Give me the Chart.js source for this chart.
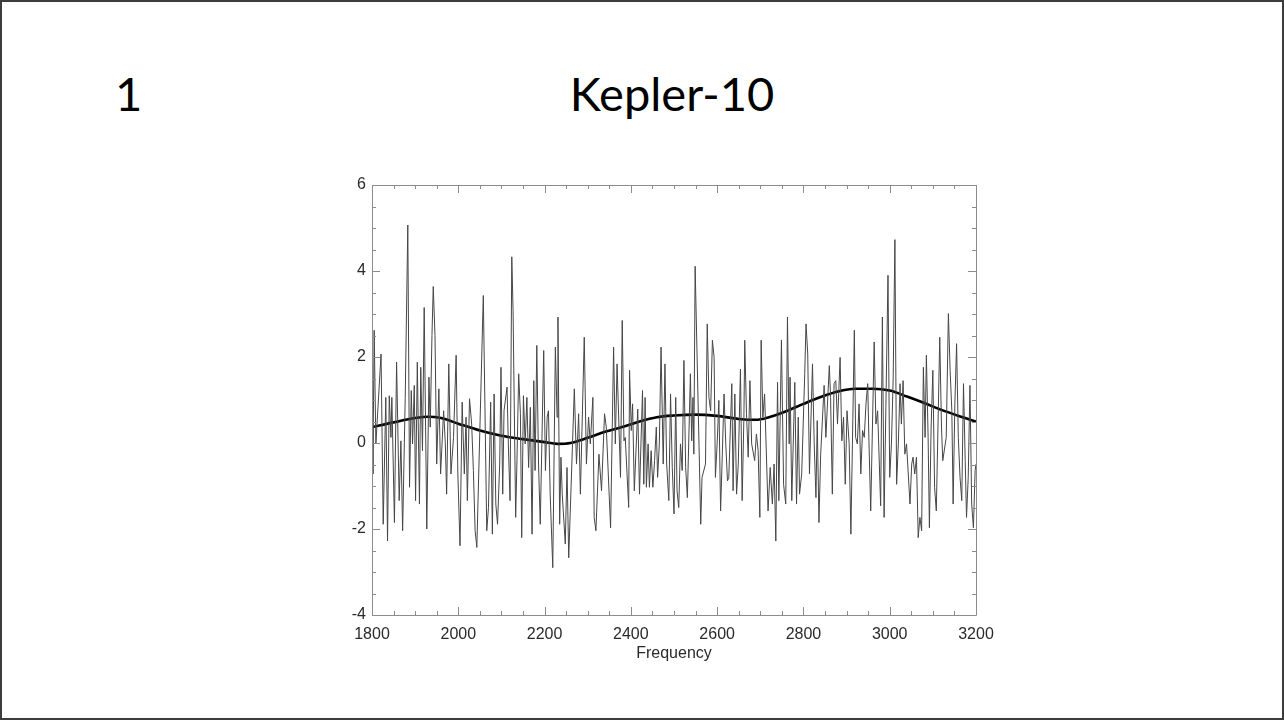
<!DOCTYPE html>
<html>
<head>
<meta charset="utf-8">
<title>Kepler-10</title>
<script src="https://cdn.jsdelivr.net/npm/chart.js@4.4.1/dist/chart.umd.min.js"></script>
<style>
  html, body { margin: 0; padding: 0; background: #ffffff; }
  body { width: 1284px; height: 720px; position: relative; overflow: hidden; }
  #slide { position: absolute; left: 0; top: 0; width: 1280px; height: 716px; border: 2px solid #3c3c3c; }
  .heading { position: absolute; top: 65px; font-family: Lato, "Open Sans", sans-serif; font-size: 47px; line-height: 56px; color: #000; white-space: nowrap; }
  #num { left: 115px; }
  #title { left: 672px; transform: translateX(-50%); }
  #plot { position: absolute; left: 0; top: 0; }
</style>
</head>
<body>
<div id="slide"></div>
<div class="heading" id="num">1</div>
<div class="heading" id="title">Kepler-10</div>
<canvas id="plot" width="1284" height="720"></canvas>
<script>
// Power spectrum samples (frequency, power)
const noiseFreq = [
  1800,1802,1805,1809,1821,1826,1832,1836,1840,1844,1846,1852,1857,1863,1867,1871,1877,1883,1887,1891,
  1894,1898,1901,1905,1910,1913,1917,1921,1927,1932,1935,1939,1942,1946,1950,1955,1959,1966,1970,1973,
  1978,1983,1989,1995,1999,2004,2009,2014,2018,2021,2026,
  2031,2035,2039,2043,2058,2066,2070,2075,2079,2083,2087,2091,2096,2099,2103,2106,2113,2116,2120,2124,
  2127,2133,2136,2140,2144,2147,2151,2155,2159,2163,2167,2171,2175,2178,2182,2186,2190,2198,2202,2206,
  2209,2213,2219,2225,2229,2231,2235,2238,2241,2248,2252,2256,
  2269,2274,2279,2283,2292,2297,2302,2306,2312,2315,2319,2326,2332,2339,2343,2353,2360,2364,2368,2376,
  2380,2384,2387,2395,2397,2401,2404,2408,2416,2420,2427,2430,2433,2436,2440,2443,2447,2451,2455,2459,
  2462,2466,2470,2475,2479,2483,2488,2492,2496,2500,
  2504,2507,2511,2515,2519,2523,2527,2531,2538,2541,2544,2546,2549,2562,2565,2573,2577,2581,2585,2589,
  2593,2596,2600,2604,2608,2612,2616,2620,2624,2627,2634,2637,2641,2645,2649,2654,2658,2662,2664,2668,
  2672,2676,2680,2687,2691,2695,2699,2702,2706,2710,2718,2723,
  2728,2732,2736,2740,2743,2749,2754,2759,2763,2767,2769,2773,2780,2784,2788,2791,2796,2803,2806,2810,
  2814,2821,2825,2829,2832,2836,2840,2848,2852,2860,2863,2867,2871,2875,2879,2885,2889,2893,2897,2901,
  2906,2910,2918,2921,2925,2929,2933,2937,2941,2945,2949,2952,2956,
  2964,2968,2972,2979,2983,2987,2996,3000,3004,3008,3012,3016,3020,3024,3027,3031,3035,3039,3047,3051,
  3054,3058,3062,3066,3070,3074,3078,3082,3085,3089,3092,3096,3100,3104,3108,3116,3120,3123,3131,3136,
  3140,3144,3147,3151,3155,3159,3163,3167,3171,3175,3178,3182,3186,3190,3194,3198,3200
];
const noisePower = [
  0.40,-0.72,2.62,-0.02,2.07,-1.89,1.06,-2.28,1.10,0.13,1.06,-1.85,1.88,-1.34,0.05,-2.04,1.06,5.07,-1.03,1.22,
  -0.02,1.34,-1.34,1.88,-1.42,1.76,-0.18,3.15,-2.00,1.53,0.37,2.50,3.64,2.50,-0.49,1.26,-0.72,0.75,-0.02,-1.19,
  1.84,-0.72,0.13,2.04,-0.72,-2.39,0.95,-0.72,0.60,-1.34,1.03,
  0.44,-0.64,-2.04,-2.43,3.43,-2.04,-1.50,0.95,-2.12,1.14,-1.42,-1.89,-0.49,1.76,-1.19,0.75,1.30,-0.02,-1.34,4.33,
  3.08,-1.73,-0.41,1.61,0.68,-2.20,1.10,-0.02,1.06,-0.57,0.83,-2.12,1.45,-0.64,2.27,-0.49,-1.89,2.15,-0.64,0.60,
  0.75,-1.19,-2.90,2.23,0.60,2.93,-1.89,-0.33,-1.19,-2.35,-0.57,-2.67,
  1.26,-0.49,0.68,-1.19,2.46,-0.49,0.60,-0.02,1.06,-1.73,-2.04,-0.26,-1.11,0.68,0.37,-1.97,2.23,-0.02,1.84,-0.80,
  2.85,0.05,0.13,-1.50,1.69,0.29,0.91,-1.11,0.79,-1.19,1.22,-0.96,1.06,-1.03,-0.02,-1.03,-0.18,-1.03,-0.41,0.37,
  -0.80,-0.02,2.23,-0.49,1.84,-0.49,-1.34,1.14,-0.57,-1.65,
  1.06,-1.11,-1.50,-0.02,-0.64,1.92,-0.57,-1.27,1.61,0.05,1.06,-0.26,4.11,-1.89,-0.80,-0.49,2.77,1.06,0.75,2.39,
  1.99,-0.80,-0.02,0.99,-1.58,-0.26,1.14,-0.02,-0.88,-0.80,1.38,-1.11,1.14,-1.19,-0.49,1.72,-1.34,0.60,2.39,0.68,
  -0.33,1.45,-0.02,-0.41,0.21,-0.18,-1.73,2.39,0.60,1.14,-1.58,-0.57,
  -1.42,-0.49,-2.28,1.41,-1.34,2.39,-0.96,-1.42,2.93,-0.02,1.53,-1.34,1.41,-1.42,0.60,-1.19,-0.72,1.61,2.77,2.07,
  -0.72,1.84,-0.02,-1.27,0.52,-1.85,-0.26,1.34,0.13,1.80,1.06,-1.19,1.38,1.45,0.44,1.99,0.05,0.60,-0.96,0.75,
  -0.02,-2.12,2.62,0.13,-0.02,0.91,-0.72,0.29,0.13,0.91,1.38,-0.02,-1.58,
  2.35,0.44,0.75,-1.46,2.93,-1.73,3.90,-0.80,-0.02,1.49,4.73,-0.96,-0.02,1.38,0.44,1.45,-0.26,-0.02,-1.42,-0.49,
  -0.33,-0.72,-0.33,-2.20,-1.73,-2.04,1.76,0.13,2.04,0.13,-1.97,0.37,1.69,-1.03,-1.58,2.46,0.37,-0.41,0.13,3.01,
  1.69,0.75,-1.42,0.91,2.31,0.13,-0.80,-1.34,1.38,-0.41,-1.73,-0.80,1.34,-1.42,-1.97,-0.64,-0.49
];

// Smoothed background level
const smoothFreq  = [1800,1850,1900,1930,1960,2000,2050,2100,2150,2200,2230,2260,2300,2340,2380,2420,2460,2500,2550,2600,2650,2690,2720,2760,2800,2840,2880,2920,2960,3000,3040,3080,3120,3160,3200];
const smoothPower = [0.37,0.48,0.58,0.61,0.58,0.45,0.29,0.17,0.09,0.02,-0.02,0.00,0.12,0.26,0.37,0.50,0.60,0.64,0.66,0.63,0.56,0.54,0.60,0.74,0.91,1.07,1.20,1.26,1.26,1.22,1.08,0.93,0.77,0.63,0.50];

// Axis ranges and tick spacing
const xRange = [1800, 3200];
const yRange = [-4, 6];
const xMajor = 200, xMinor = 50;
const yMajor = 2, yMinor = 0.5;

// Boxed frame with inward major/minor ticks on all four sides
const frameTicks = {
  id: 'frameTicks',
  afterDatasetsDraw(chart) {
    const { ctx, chartArea: a, scales: { x, y } } = chart;
    ctx.save();
    ctx.strokeStyle = '#8c8c8c';
    ctx.lineWidth = 1;
    ctx.beginPath();
    ctx.rect(Math.round(a.left) + 0.5, Math.round(a.top) + 0.5, Math.round(a.right - a.left), Math.round(a.bottom - a.top));
    const nx = Math.round((xRange[1] - xRange[0]) / xMinor);
    for (let i = 0; i <= nx; i++) {
      const v = xRange[0] + i * xMinor;
      const px = Math.round(x.getPixelForValue(v)) + 0.5;
      const len = (v - xRange[0]) % xMajor === 0 ? 8 : 4;
      ctx.moveTo(px, a.bottom); ctx.lineTo(px, a.bottom - len);
      ctx.moveTo(px, a.top); ctx.lineTo(px, a.top + len);
    }
    const ny = Math.round((yRange[1] - yRange[0]) / yMinor);
    for (let i = 0; i <= ny; i++) {
      const v = yRange[0] + i * yMinor;
      const py = Math.round(y.getPixelForValue(v)) + 0.5;
      const len = Math.abs((v - yRange[0]) % yMajor) < 1e-9 ? 8 : 4;
      ctx.moveTo(a.left, py); ctx.lineTo(a.left + len, py);
      ctx.moveTo(a.right, py); ctx.lineTo(a.right - len, py);
    }
    ctx.stroke();
    ctx.restore();
  }
};

const axisFont = { family: '"Liberation Sans", Arial, sans-serif', size: 16 };

new Chart(document.getElementById('plot'), {
  type: 'line',
  data: {
    datasets: [
      {
        label: 'Power',
        data: noiseFreq.map((f, i) => ({ x: f, y: noisePower[i] })),
        borderColor: '#464646',
        borderWidth: 1,
        pointRadius: 0,
        tension: 0
      },
      {
        label: 'Smoothed',
        data: smoothFreq.map((f, i) => ({ x: f, y: smoothPower[i] })),
        borderColor: '#000000',
        borderWidth: 2.6,
        pointRadius: 0,
        cubicInterpolationMode: 'monotone'
      }
    ]
  },
  options: {
    responsive: false,
    animation: false,
    events: [],
    layout: { padding: { left: 332, right: 308, top: 185, bottom: 57 } },
    plugins: { legend: { display: false }, tooltip: { enabled: false } },
    scales: {
      x: {
        type: 'linear',
        min: xRange[0], max: xRange[1],
        grid: { display: false, drawTicks: false },
        border: { display: false },
        ticks: { stepSize: xMajor, padding: 10, color: '#2a2a2a', font: axisFont, maxRotation: 0, autoSkip: false,
                 callback: v => String(v) },
        title: { display: true, text: 'Frequency', color: '#2a2a2a', font: axisFont, padding: 0 },
        afterFit(scale) { scale.height = 48; }
      },
      y: {
        type: 'linear',
        min: yRange[0], max: yRange[1],
        grid: { display: false, drawTicks: false },
        border: { display: false },
        ticks: { stepSize: yMajor, padding: 6, color: '#2a2a2a', font: axisFont },
        afterFit(scale) { scale.width = 40; }
      }
    }
  },
  plugins: [frameTicks]
});
</script>
</body>
</html>
